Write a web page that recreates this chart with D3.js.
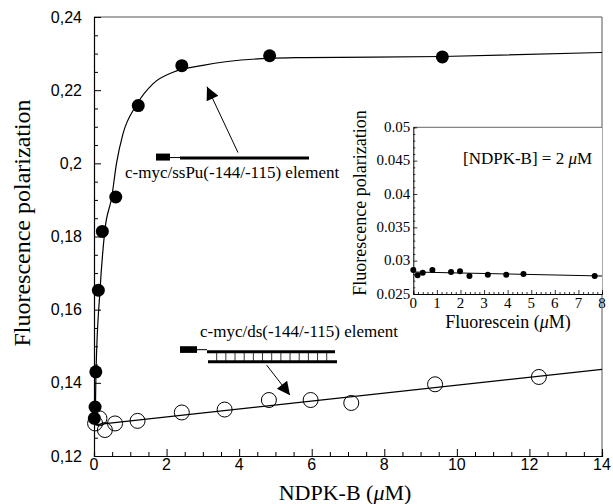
<!DOCTYPE html>
<html>
<head>
<meta charset="utf-8">
<script src="https://cdn.jsdelivr.net/npm/d3@7"></script>
<style>
  body { margin: 0; background: #fff; }
  text { fill: #000; }
  .serif { font-family: "Liberation Serif", "Times New Roman", serif; }
  .sans { font-family: "Liberation Sans", Arial, sans-serif; }
</style>
</head>
<body>
<div id="chart"></div>
<script>

// main plot: filled circles, c-myc/ssPu element
var ssX = [0.01, 0.03, 0.05, 0.12, 0.23, 0.6, 1.22, 2.42, 4.84, 9.6];
var ssY = [0.1303, 0.1334, 0.1430, 0.1653, 0.1814, 0.1908, 0.2158, 0.2267, 0.2294, 0.2291];

// fitted curve for ssPu
var ssFitX = [0, 0.03, 0.055, 0.166, 0.30, 0.49, 0.62, 0.80, 1.16, 1.63, 2.18, 3.0, 4.83, 5.8, 9.6, 14];
var ssFitY = [0.1295, 0.1298, 0.1429, 0.1653, 0.1817, 0.1908, 0.2000, 0.2081, 0.2158, 0.2218, 0.2249, 0.2268, 0.2287, 0.2289, 0.2292, 0.2303];

// open circles, c-myc/ds element
var dsX = [0.03, 0.15, 0.3, 0.58, 1.2, 2.42, 3.6, 4.82, 5.97, 7.09, 9.4, 12.26];
var dsY = [0.1289, 0.1303, 0.1271, 0.1289, 0.1296, 0.1319, 0.1327, 0.1353, 0.1353, 0.1345, 0.1396, 0.1416];
var dsFitX = [0, 14];
var dsFitY = [0.1285, 0.1437];

// inset: fluorescein alone
var insX = [0, 0.18, 0.4, 0.81, 1.6, 1.98, 2.38, 3.16, 3.94, 4.67, 7.69];
var insY = [0.0286, 0.0278, 0.0282, 0.0286, 0.0283, 0.0284, 0.0277, 0.0279, 0.0279, 0.0280, 0.0277];
var insFitX = [0, 8];
var insFitY = [0.0283, 0.0277];

var xTicks = [0, 2, 4, 6, 8, 10, 12, 14];
var yTicks = [0.12, 0.14, 0.16, 0.18, 0.2, 0.22, 0.24];
var yTickLabels = ["0,12", "0,14", "0,16", "0,18", "0,2", "0,22", "0,24"];
var insXTicks = [0, 1, 2, 3, 4, 5, 6, 7, 8];
var insYTicks = [0.025, 0.03, 0.035, 0.04, 0.045, 0.05];
var insYTickLabels = ["0.025", "0.03", "0.035", "0.04", "0.045", "0.05"];

var W = 613, H = 504;
var svg = d3.select("#chart").append("svg")
    .attr("width", W)
    .attr("height", H);

var x = d3.scaleLinear().domain([0, 14]).range([94, 602]);
var y = d3.scaleLinear().domain([0.12, 0.24]).range([456, 17]);

var zip = function(a, b) { return a.map(function(v, i) { return [v, b[i]]; }); };

// frame
svg.append("line").attr("x1", x(0)).attr("x2", x(14)).attr("y1", y(0.24)).attr("y2", y(0.24))
    .attr("stroke", "#555").attr("stroke-width", 1);
svg.append("line").attr("x1", x(14)).attr("x2", x(14)).attr("y1", y(0.24)).attr("y2", y(0.12))
    .attr("stroke", "#555").attr("stroke-width", 1);

// axes with inward ticks
var xAxis = d3.axisBottom(x).tickValues(d3.range(0, 14.01, 0.5)).tickSize(-4).tickFormat("");
var gx = svg.append("g").attr("transform", "translate(0," + y(0.12) + ")").call(xAxis);
gx.selectAll(".tick line").filter(function(d) { return xTicks.indexOf(d) >= 0; }).attr("y2", -7);
gx.append("g").selectAll("text").data(xTicks).enter().append("text")
    .attr("class", "sans")
    .attr("x", function(d) { return x(d); })
    .attr("y", 14)
    .attr("text-anchor", "middle")
    .attr("font-size", 16)
    .text(function(d) { return d; });

var yAxis = d3.axisLeft(y).tickValues(d3.range(0.12, 0.2401, 0.005)).tickSize(-4).tickFormat("");
var gy = svg.append("g").attr("transform", "translate(" + x(0) + ",0)").call(yAxis);
gy.selectAll(".tick line").filter(function(d) {
    return yTicks.some(function(t) { return Math.abs(t - d) < 1e-6; });
}).attr("x2", 7);
gy.append("g").selectAll("text").data(yTicks).enter().append("text")
    .attr("class", "sans")
    .attr("x", -12)
    .attr("y", function(d) { return y(d); })
    .attr("dy", "0.35em")
    .attr("text-anchor", "end")
    .attr("font-size", 16)
    .text(function(d, i) { return yTickLabels[i]; });
svg.selectAll(".domain").attr("stroke", "#000").attr("stroke-width", 1.2);

// axis titles
svg.append("text")
    .attr("class", "serif")
    .attr("transform", "translate(30," + 223 + ") rotate(-90)")
    .attr("text-anchor", "middle")
    .attr("font-size", 24)
    .text("Fluorescence polarization");

var xt = svg.append("text")
    .attr("class", "serif")
    .attr("x", 345)
    .attr("y", 500)
    .attr("text-anchor", "middle")
    .attr("font-size", 22);
xt.append("tspan").text("NDPK-B (");
xt.append("tspan").attr("font-style", "italic").text("\u03bc");
xt.append("tspan").text("M)");

// fit lines
var line = d3.line()
    .x(function(d) { return x(d[0]); })
    .y(function(d) { return y(d[1]); });

svg.append("path")
    .datum(zip(ssFitX, ssFitY))
    .attr("fill", "none")
    .attr("stroke", "#000")
    .attr("stroke-width", 1.2)
    .attr("d", line.curve(d3.curveMonotoneX));

svg.append("path")
    .datum(zip(dsFitX, dsFitY))
    .attr("fill", "none")
    .attr("stroke", "#000")
    .attr("stroke-width", 1.2)
    .attr("d", line.curve(d3.curveLinear));

// points
svg.append("g").selectAll("circle").data(zip(dsX, dsY)).enter().append("circle")
    .attr("cx", function(d) { return x(d[0]); })
    .attr("cy", function(d) { return y(d[1]); })
    .attr("r", 7.5)
    .attr("fill", "none")
    .attr("stroke", "#000")
    .attr("stroke-width", 1);

svg.append("g").selectAll("circle").data(zip(ssX, ssY)).enter().append("circle")
    .attr("cx", function(d) { return x(d[0]); })
    .attr("cy", function(d) { return y(d[1]); })
    .attr("r", 6.5)
    .attr("fill", "#000");

// arrowheads
svg.append("defs").append("marker")
    .attr("id", "arr")
    .attr("viewBox", "0 0 10 10")
    .attr("refX", 10).attr("refY", 5)
    .attr("markerUnits", "userSpaceOnUse")
    .attr("markerWidth", 16).attr("markerHeight", 13)
    .attr("orient", "auto")
    .append("path").attr("d", "M0,0 L10,5 L0,10 Z").attr("fill", "#000");

// ssPu schematic
svg.append("rect")
    .attr("x", x(1.709)).attr("y", y(0.20267))
    .attr("width", x(2.094) - x(1.709)).attr("height", y(0.20076) - y(0.20267))
    .attr("fill", "#000");
svg.append("line").attr("x1", x(2.094)).attr("x2", x(2.37)).attr("y1", y(0.20158)).attr("y2", y(0.20158))
    .attr("stroke", "#000").attr("stroke-width", 1);
svg.append("line").attr("x1", x(2.37)).attr("x2", x(5.925)).attr("y1", y(0.20145)).attr("y2", y(0.20145))
    .attr("stroke", "#000").attr("stroke-width", 3);
svg.append("text")
    .attr("class", "serif")
    .attr("x", x(0.854)).attr("y", y(0.1960))
    .attr("font-size", 17)
    .text("c-myc/ssPu(-144/-115) element");
svg.append("line")
    .attr("x1", x(3.968)).attr("y1", y(0.20295))
    .attr("x2", x(3.114)).attr("y2", y(0.22096))
    .attr("stroke", "#000").attr("stroke-width", 1)
    .attr("marker-end", "url(#arr)");

// ds schematic
svg.append("rect")
    .attr("x", x(2.37)).attr("y", y(0.15001))
    .attr("width", x(2.839) - x(2.37)).attr("height", y(0.14818) - y(0.15001))
    .attr("fill", "#000");
svg.append("line").attr("x1", x(2.839)).attr("x2", x(3.114)).attr("y1", y(0.14906)).attr("y2", y(0.14906))
    .attr("stroke", "#000").attr("stroke-width", 1);
svg.append("line").attr("x1", x(3.114)).attr("x2", x(6.642)).attr("y1", y(0.14851)).attr("y2", y(0.14851))
    .attr("stroke", "#000").attr("stroke-width", 3);
svg.append("line").attr("x1", x(3.142)).attr("x2", x(6.697)).attr("y1", y(0.14578)).attr("y2", y(0.14578))
    .attr("stroke", "#000").attr("stroke-width", 3);
svg.append("g").selectAll("line").data(d3.range(13)).enter().append("line")
    .attr("x1", function(i) { return x(3.381 + i * 0.2527); })
    .attr("x2", function(i) { return x(3.381 + i * 0.2527); })
    .attr("y1", y(0.14851))
    .attr("y2", y(0.14578))
    .attr("stroke", "#000").attr("stroke-width", 0.8);
svg.append("text")
    .attr("class", "serif")
    .attr("x", x(2.921)).attr("y", y(0.15261))
    .attr("font-size", 17)
    .text("c-myc/ds(-144/-115) element");
svg.append("line")
    .attr("x1", x(4.759)).attr("y1", y(0.14483))
    .attr("x2", x(5.401)).attr("y2", y(0.13664))
    .attr("stroke", "#000").attr("stroke-width", 1)
    .attr("marker-end", "url(#arr)");

// ---- inset ----
var ix = d3.scaleLinear().domain([0, 8]).range([413.3, 602]);
var iy = d3.scaleLinear().domain([0.025, 0.05]).range([294, 127.3]);

var inset = svg.append("g");
inset.append("rect")
    .attr("x", ix(0)).attr("y", iy(0.05))
    .attr("width", ix(8) - ix(0)).attr("height", iy(0.025) - iy(0.05))
    .attr("fill", "#fff");
inset.append("line").attr("x1", ix(0)).attr("x2", ix(8)).attr("y1", iy(0.05)).attr("y2", iy(0.05))
    .attr("stroke", "#666").attr("stroke-width", 1);

var ixAxis = d3.axisBottom(ix).tickValues(d3.range(0, 8.01, 0.2)).tickSize(-2).tickFormat("");
var gix = inset.append("g").attr("transform", "translate(0," + iy(0.025) + ")").call(ixAxis);
gix.selectAll(".tick line").filter(function(d) {
    return insXTicks.some(function(t) { return Math.abs(t - d) < 1e-6; });
}).attr("y2", -4);
gix.append("g").selectAll("text").data(insXTicks).enter().append("text")
    .attr("class", "serif")
    .attr("x", function(d) { return ix(d); })
    .attr("y", 14)
    .attr("text-anchor", "middle")
    .attr("font-size", 15)
    .text(function(d) { return d; });

var iyAxis = d3.axisLeft(iy).tickValues(d3.range(0.025, 0.05001, 0.001)).tickSize(-2).tickFormat("");
var giy = inset.append("g").attr("transform", "translate(" + ix(0) + ",0)").call(iyAxis);
giy.selectAll(".tick line").filter(function(d) {
    return insYTicks.some(function(t) { return Math.abs(t - d) < 1e-6; });
}).attr("x2", 4);
giy.append("g").selectAll("text").data(insYTicks).enter().append("text")
    .attr("class", "serif")
    .attr("x", -3)
    .attr("y", function(d) { return iy(d); })
    .attr("dy", "0.32em")
    .attr("text-anchor", "end")
    .attr("font-size", 15)
    .text(function(d, i) { return insYTickLabels[i]; });
inset.selectAll(".domain").attr("stroke", "#000").attr("stroke-width", 1);
inset.selectAll(".tick line").attr("stroke", "#000").attr("stroke-width", 0.8);

inset.append("text")
    .attr("class", "serif")
    .attr("transform", "translate(366," + 203 + ") rotate(-90)")
    .attr("text-anchor", "middle")
    .attr("font-size", 18)
    .text("Fluorescence polarization");

var ixt = inset.append("text")
    .attr("class", "serif")
    .attr("x", 508)
    .attr("y", 328)
    .attr("text-anchor", "middle")
    .attr("font-size", 18);
ixt.append("tspan").text("Fluorescein (");
ixt.append("tspan").attr("font-style", "italic").text("\u03bc");
ixt.append("tspan").text("M)");

var nt = inset.append("text")
    .attr("class", "serif")
    .attr("x", 463)
    .attr("y", 164)
    .attr("font-size", 17);
nt.append("tspan").text("[NDPK-B] = 2 ");
nt.append("tspan").attr("font-style", "italic").text("\u03bc");
nt.append("tspan").text("M");

inset.append("path")
    .datum(zip(insFitX, insFitY))
    .attr("fill", "none")
    .attr("stroke", "#000")
    .attr("stroke-width", 1)
    .attr("d", d3.line()
        .x(function(d) { return ix(d[0]); })
        .y(function(d) { return iy(d[1]); }));

inset.append("g").selectAll("circle").data(zip(insX, insY)).enter().append("circle")
    .attr("cx", function(d) { return ix(d[0]); })
    .attr("cy", function(d) { return iy(d[1]); })
    .attr("r", 3)
    .attr("fill", "#000");

</script>
</body>
</html>
